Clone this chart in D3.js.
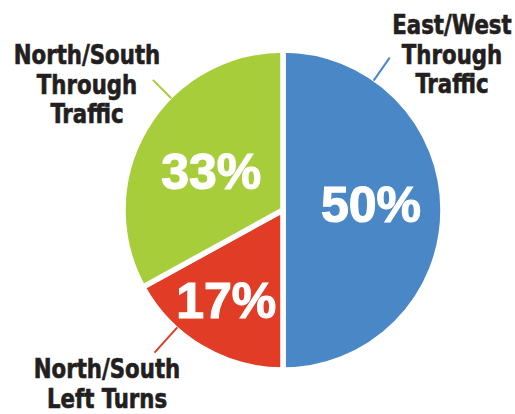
<!DOCTYPE html>
<html>
<head>
<meta charset="utf-8">
<script src="https://cdn.jsdelivr.net/npm/d3@7"></script>
<style>
  body { margin: 0; background: #fff; }
  svg { display: block; }
</style>
</head>
<body>
<script>
// Data
const categories = ['East/West Through Traffic', 'North/South Left Turns', 'North/South Through Traffic'];
const labelLines = [['East/West', 'Through', 'Traffic'], ['North/South', 'Left Turns'], ['North/South', 'Through', 'Traffic']];
const shares = [50, 17, 33];
const colors = ['#4a87c6', '#e03c26', '#a8cd3b'];

// Layout
const width = 515;
const height = 414;
const cx = 283;
const cy = 210;
const radius = 160;
const gap = 5.5;
const textColor = '#231f20';

// leader line angle (deg, clockwise from 12 o'clock) and length, label block anchor
const leaders = [
  { angle: 35, len: 26, lx: 452, ly: 34 },
  { angle: 222, len: 32, lx: 107, ly: 378 },
  { angle: 315, len: 24, lx: 87, ly: 64 },
];
const pctNudge = [[0, -6], [-12, 14], [4, 6]];

const svg = d3.select('body')
  .append('svg')
  .attr('width', width)
  .attr('height', height);

const pie = d3.pie().sort(null).value((d) => d);
const arcs = pie(shares);

const arc = d3.arc().innerRadius(0).outerRadius(radius);
const labelArc = d3.arc().innerRadius(radius * 0.55).outerRadius(radius * 0.55);

const g = svg.append('g').attr('transform', `translate(${cx},${cy})`);

g.selectAll('path.slice')
  .data(arcs)
  .join('path')
  .attr('class', 'slice')
  .attr('d', arc)
  .attr('fill', (d, i) => colors[i])
  .attr('stroke', '#fff')
  .attr('stroke-width', gap)
  .attr('stroke-linejoin', 'miter');

// percentage labels
g.selectAll('text.pct')
  .data(arcs)
  .join('text')
  .attr('class', 'pct')
  .attr('x', (d, i) => labelArc.centroid(d)[0] + pctNudge[i][0])
  .attr('y', (d, i) => labelArc.centroid(d)[1] + pctNudge[i][1])
  .attr('dy', '0.36em')
  .attr('text-anchor', 'middle')
  .attr('fill', '#fff')
  .attr('stroke', '#fff')
  .attr('stroke-width', 1.2)
  .style('font-family', '"Liberation Sans Narrow", "Arial Narrow", sans-serif')
  .style('font-weight', 'bold')
  .style('font-size', '50px')
  .text((d) => `${d.data}%`);

// leader lines
g.selectAll('line.leader')
  .data(leaders)
  .join('line')
  .attr('class', 'leader')
  .attr('x1', (d) => d3.pointRadial(d.angle * Math.PI / 180, radius - 2)[0])
  .attr('y1', (d) => d3.pointRadial(d.angle * Math.PI / 180, radius - 2)[1])
  .attr('x2', (d) => d3.pointRadial(d.angle * Math.PI / 180, radius + d.len)[0])
  .attr('y2', (d) => d3.pointRadial(d.angle * Math.PI / 180, radius + d.len)[1])
  .attr('stroke', (d, i) => colors[i])
  .attr('stroke-width', 2);

// category labels
labelLines.forEach((lines, i) => {
  const lbl = svg.append('g')
    .attr('transform', `translate(${leaders[i].lx},${leaders[i].ly}) scale(0.91,1)`);
  lbl.selectAll('text')
    .data(lines)
    .join('text')
    .attr('x', 0)
    .attr('y', (d, j) => j * 29.7)
    .attr('text-anchor', 'middle')
    .attr('fill', textColor)
    .attr('stroke', textColor)
    .attr('stroke-width', 0.6)
    .style('font-family', '"DejaVu Sans Condensed", "DejaVu Sans", sans-serif')
    .style('font-stretch', 'condensed')
    .style('font-weight', 'bold')
    .style('font-size', '26px')
    .text((d) => d);
});
</script>
</body>
</html>
